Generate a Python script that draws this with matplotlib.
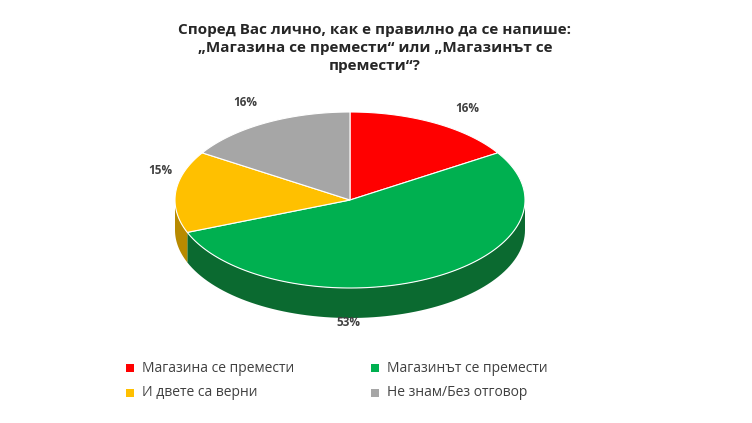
import numpy as np
import matplotlib.pyplot as plt
from matplotlib.patches import Polygon

plt.rcParams['font.family'] = ['Open Sans', 'DejaVu Sans']

labels = ['Магазина се премести', 'Магазинът се премести', 'И двете са верни', 'Не знам/Без отговор']
values = [16, 53, 15, 16]
colors = ['#ff0000', '#00b050', '#ffc000', '#a6a6a6']
side_colors = ['#b00000', '#0b6a30', '#b88a00', '#707070']
pct_pos = [(467, 108), (348, 322), (160, 170), (245, 103)]

cx, cy, rx, ry, depth = 350, 200, 175, 88, 30

fig = plt.figure(figsize=(7.52, 4.23), dpi=100)
ax = fig.add_axes([0, 0, 1, 1])
ax.set_xlim(0, 752)
ax.set_ylim(423, 0)
ax.axis('off')

def pt(t, dy=0):
    return cx + rx * np.cos(t), cy - ry * np.sin(t) + dy

# wedge angles, clockwise from top
bounds = [90.0]
for v in values:
    bounds.append(bounds[-1] - v / sum(values) * 360)

# side walls (front half only)
for i in range(len(values)):
    a0, a1 = bounds[i], bounds[i + 1]
    lo, hi = max(a1, -180), min(a0, 0)
    for shift in (0, -360):
        l, h = max(a1, -180 + shift), min(a0, 0 + shift)
        if h > l:
            t = np.radians(np.linspace(h, l, 80))
            top = [pt(x) for x in t]
            bot = [pt(x, depth) for x in t[::-1]]
            ax.add_patch(Polygon(top + bot, closed=True, fc=side_colors[i], ec='none'))

# top faces
for i in range(len(values)):
    t = np.radians(np.linspace(bounds[i], bounds[i + 1], 120))
    poly = [(cx, cy)] + [pt(x) for x in t]
    ax.add_patch(Polygon(poly, closed=True, fc=colors[i], ec='white', lw=0.8))

for (x, y), v in zip(pct_pos, values):
    ax.text(x, y, f'{v}%', ha='center', va='center', fontsize=8.5, fontweight='bold', color='#404040')

title = ('Според Вас лично, как е правилно да се напише:\n'
         '„Магазина се премести“ или „Магазинът се\n'
         'премести“?')
ax.text(375, 48, title, ha='center', va='center', fontsize=11, fontweight='bold',
        color='#262626', linespacing=1.35)

leg_pos = [(130, 368), (375, 368), (130, 393), (375, 393)]
for (x, y), lab, c in zip(leg_pos, labels, colors):
    ax.add_patch(Polygon([(x - 4, y - 4), (x + 4, y - 4), (x + 4, y + 4), (x - 4, y + 4)], fc=c, ec='none'))
    ax.text(x + 12, y, lab, ha='left', va='center', fontsize=10, color='#404040')

fig.savefig('out.png', dpi=100)
